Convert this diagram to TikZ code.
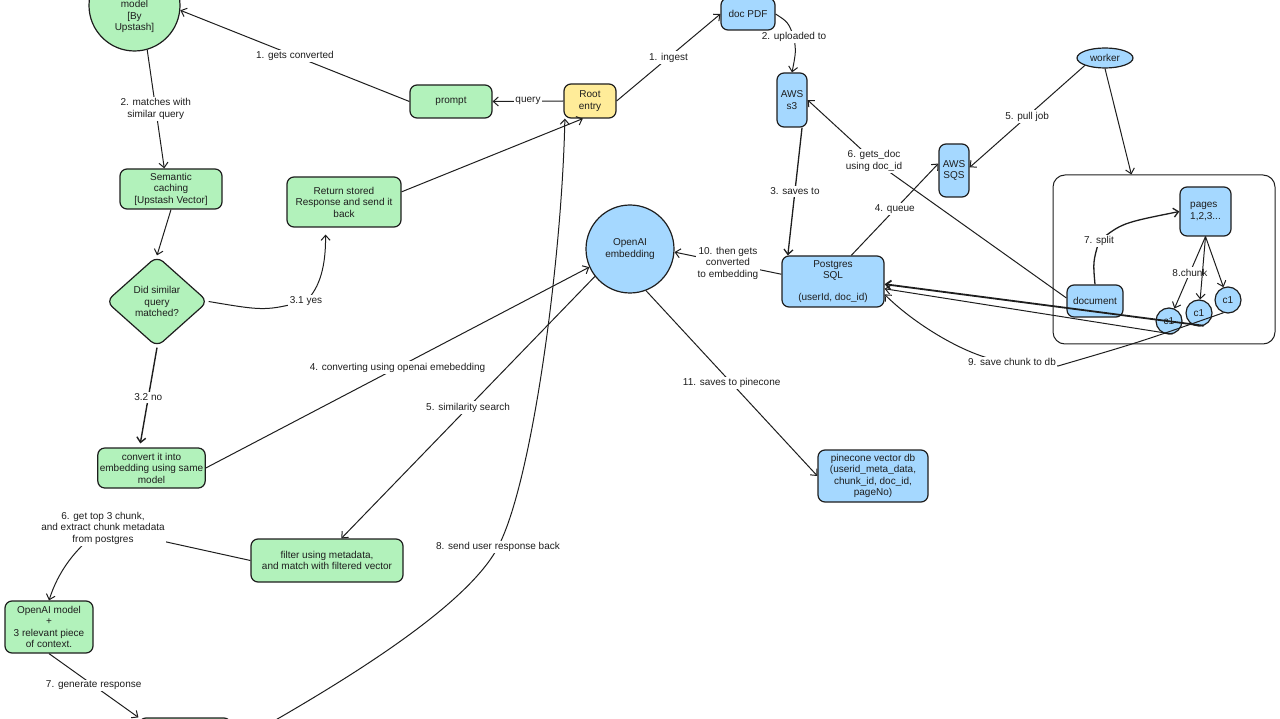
\documentclass[tikz,border=0pt]{standalone}
\usepackage{fontspec}
\setmainfont{Liberation Sans}
\usepackage{tikz}
\usetikzlibrary{shapes.geometric,arrows.meta}
\definecolor{ink}{HTML}{1E1E1E}
\definecolor{gfill}{HTML}{B2F2BB}
\definecolor{bfill}{HTML}{A5D8FF}
\definecolor{yfill}{HTML}{FFEC99}
\begin{document}
\begin{tikzpicture}[x=1pt,y=-1pt,>={Straight Barb[length=5pt,width=9pt]},color=ink,line width=1pt,
  font=\fontsize{10}{11.5}\selectfont,
  greenbox/.style={draw,rectangle,rounded corners=7pt,fill=gfill,align=center,inner sep=2pt,line width=1.2pt},
  bluebox/.style={greenbox,fill=bfill},
  lbl/.style={fill=white,inner sep=1.5pt,align=center}]
\useasboundingbox (0,0) rectangle (1280,719);
\node[greenbox,circle,minimum size=91pt,inner sep=0pt] (mdl) at (134.5,5.5) {\raisebox{-14pt}[0pt][0pt]{\begin{tabular}{@{}c@{}}model\\{[}By\\Upstash]\end{tabular}}};
\node[greenbox,minimum width=102pt,minimum height=40pt] (sem) at (171,189) {Semantic\\caching\\{[}Upstash Vector]};
\node[greenbox,diamond,aspect=1.1,minimum width=102pt,minimum height=91pt,inner sep=0pt,rounded corners=8pt] (dia) at (157,301.5) {Did similar\\query\\matched?};
\node[greenbox,minimum width=105pt,minimum height=40pt] (conv) at (151.5,468) {convert it into\\embedding using same\\model};
\node[greenbox,minimum width=114pt,minimum height=50pt] (ret) at (344,202) {Return stored\\Response and send it\\back};
\node[greenbox,minimum width=82pt,minimum height=33pt] (prompt) at (451,101.5) {prompt};
\node[greenbox,fill=yfill,minimum width=52pt,minimum height=34pt] (root) at (590,101) {Root\\entry};
\node[greenbox,minimum width=152pt,minimum height=43pt] (filter) at (327,560.5) {filter using metadata,\\and match with filtered vector};
\node[greenbox,minimum width=88pt,minimum height=52pt] (omodel) at (49,627) {OpenAI model\\+\\3 relevant piece\\of context.};
\node[greenbox,minimum width=92pt,minimum height=54pt] (reply) at (185,745) {};
\node[bluebox,circle,minimum size=88pt,inner sep=0pt] (oai) at (630,249) {OpenAI\\embedding};
\node[bluebox,minimum width=54pt,minimum height=32pt] (docpdf) at (748,14) {doc PDF};
\node[bluebox,minimum width=30pt,minimum height=54pt,inner sep=1pt] (s3) at (792,100) {AWS\\s3};
\node[bluebox,minimum width=30pt,minimum height=53pt,inner sep=1pt] (sqs) at (954,170.5) {AWS\\SQS};
\node[bluebox,minimum width=102pt,minimum height=51pt] (pg) at (833,281.5) {Postgres\\SQL\\[10pt](userId, doc\_id)};
\node[bluebox,minimum width=110pt,minimum height=52pt] (pine) at (873,476) {pinecone vector db\\(userid\_meta\_data,\\chunk\_id, doc\_id,\\pageNo)};
\node[bluebox,ellipse,minimum width=56pt,minimum height=20pt,inner sep=0pt] (worker) at (1105,58) {worker};
\node[draw,rectangle,rounded corners=12pt,minimum width=222pt,minimum height=169pt] (cont) at (1164,259.5) {};
\node[bluebox,align=left,minimum width=51pt,minimum height=49pt] (pages) at (1205.5,211.5) {pages\\1,2,3...};
\node[bluebox,minimum width=56pt,minimum height=32pt] (doc) at (1095,301) {document};
\node[bluebox,circle,minimum size=26pt,inner sep=0pt] (ca) at (1169,321) {c1};
\node[bluebox,circle,minimum size=26pt,inner sep=0pt] (cb) at (1199,313) {c1};
\node[bluebox,circle,minimum size=26pt,inner sep=0pt] (cc) at (1228,300) {c1};
\draw[->] (root.west) -- node[lbl] (lquery) {query} (prompt.east);
\draw[->] (prompt.west) -- node[lbl] (lconv) {1. gets converted} (mdl.-6);
\draw[->] (mdl.-74) -- node[lbl] (lmatch) {2. matches with\\similar query} (sem.108);
\draw[->] (sem.south) -- (dia.north);
\draw[->,shorten >=7pt] (dia.east) .. controls (265,311) .. (306,301) node[lbl] (lyes) {3.1 yes} .. controls (320,288) and (326,265) .. (ret.-126);
\draw[->] (ret.10) -- (root.-112);
\draw[->,line width=1.4pt,shorten >=4pt] (dia.south) -- node[lbl] (lno) {3.2 no} (conv.120);
\draw[->] (conv.east) -- node[lbl] (lemb) {4. converting using openai emebedding} (oai.204);
\draw[->] (oai.218) -- node[lbl] (lsim) {5. similarity search} (filter.57);
\draw[->] (filter.west) -- (103,528) node[lbl] (lchunk) {6. get top 3 chunk,\\and extract chunk metadata\\from postgres} .. controls (75,548) and (58,572) .. (omodel.north);
\draw[->] (omodel.south) -- node[lbl] (lgen) {7. generate response} (reply.north west);
\draw[->] (reply.east) .. controls (330,690) and (465,610) .. (498,547) node[lbl] (lsend) {8. send user response back} .. controls (532,483) and (562,260) .. (root.-145);
\draw[->] (root.east) -- node[lbl] (lingest) {1. ingest} (docpdf.west);
\draw[->] (docpdf.east) .. controls (788,22) .. (794,37) node[lbl] (lup) {2. uploaded to} .. controls (796,52) .. (s3.north);
\draw[->,line width=1.3pt] (s3.-70) -- node[lbl] (lsave) {3. saves to} (pg.150);
\draw[->] (pg.55) -- node[lbl] (lqueue) {4. queue} (sqs.156);
\draw[->] (worker.south west) -- node[lbl] (lpull) {5. pull job} (sqs.11);
\draw[->] (worker.south) -- (cont.111);
\draw[->] (doc.174) -- (874,161) node[lbl] (lgets) {6. gets\_doc\\using doc\_id} -- (s3.east);
\draw[->,line width=1.3pt] (doc.north) .. controls (1093,262) .. (1099,241) node[lbl] (lsplit) {7. split} .. controls (1122,223) .. (pages.west);
\draw[->] (pages.south) -- node[lbl] (lchk) {8.chunk} (ca);
\draw[->] (pages.south) -- (cb);
\draw[->] (pages.south) -- (cc);
\draw[->,line width=1.8pt] (cb.-70) -- (pg.-3);
\draw[->] (ca.-75) -- (pg.-8);
\draw[->] (cc.-110) .. controls (1140,342) .. (1058,366) -- (1012,362) node[lbl] (ldb) {9. save chunk to db} .. controls (975,362) and (915,325) .. (pg.-14);
\draw[->] (pg.172) -- node[lbl] (lthen) {10. then gets\\converted\\to embedding} (oai.-4);
\draw[->] (oai.-69) -- node[lbl] (lpine) {11. saves to pinecone} (pine.west);
\end{tikzpicture}
\end{document}
